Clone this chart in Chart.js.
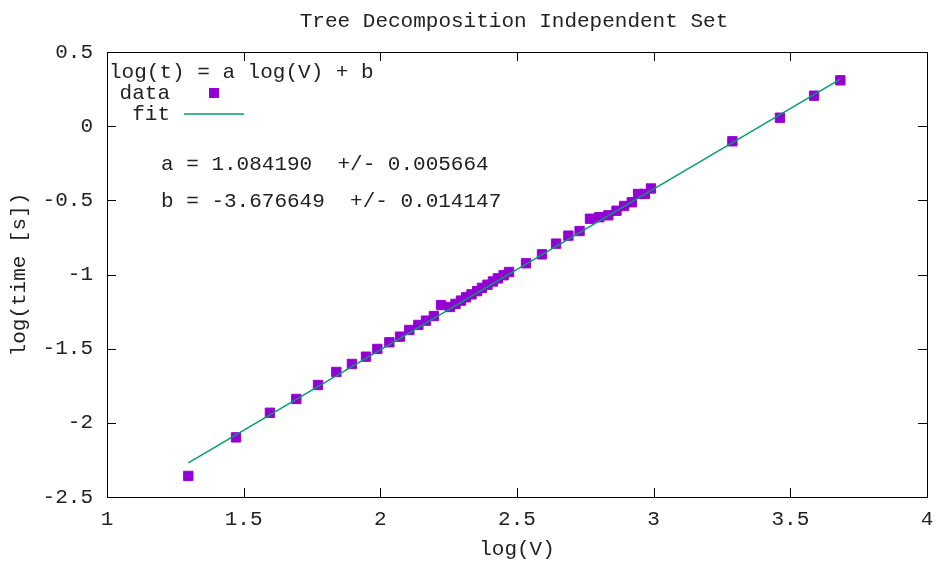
<!DOCTYPE html>
<html>
<head>
<meta charset="utf-8">
<script src="https://cdn.jsdelivr.net/npm/chart.js@4"></script>
<style>
  html, body { margin: 0; padding: 0; background: #fff; }
  #wrap { width: 936px; height: 562px; }
</style>
</head>
<body>
<div id="wrap"><canvas id="fitChart" width="936" height="562"></canvas></div>
<script>
// measured points (log10 of vertex count vs log10 of runtime)
const logV = [1.2975, 1.472, 1.596, 1.6926, 1.772, 1.839, 1.896, 1.9476, 1.989,
  2.033, 2.072, 2.106, 2.139, 2.167, 2.196, 2.222,
  2.255, 2.275, 2.295, 2.3135, 2.3335, 2.354, 2.372, 2.392, 2.412, 2.430, 2.451, 2.471,
  2.533, 2.5915, 2.643, 2.688, 2.729, 2.767, 2.801, 2.834, 2.864, 2.892, 2.920, 2.943, 2.968, 2.990,
  3.288, 3.462, 3.587, 3.683];
const logT = [-2.358, -2.098, -1.932, -1.839, -1.745, -1.657, -1.603, -1.554, -1.502,
  -1.457, -1.419, -1.374, -1.340, -1.311, -1.280, -1.206,
  -1.219, -1.198, -1.176, -1.154, -1.134, -1.112, -1.090, -1.069, -1.047, -1.026, -1.005, -0.983,
  -0.9245, -0.864, -0.792, -0.738, -0.707, -0.624, -0.614, -0.601, -0.570, -0.538, -0.513, -0.457, -0.457, -0.420,
  -0.102, 0.057, 0.2055, 0.309];

// fit line end points as drawn
const fitV = [1.2975, 3.683];
const fitT = [-2.270, 0.317];

const xTicks = [1, 1.5, 2, 2.5, 3, 3.5, 4];
const yTicks = [-2.5, -2, -1.5, -1, -0.5, 0, 0.5];

const titleText = 'Tree Decomposition Independent Set';
const keyTitle = 'log(t) = a log(V) + b';
const fitParams = ['a = 1.084190  +/- 0.005664', 'b = -3.676649  +/- 0.014147'];

const FONT = '"Liberation Mono", "DejaVu Sans Mono", monospace';
const TXT = '#222';
const PURPLE = '#9400d3';
const GREEN = '#009e73';

// gnuplot-ish frame: border, inward ticks on all sides, title and key
const gnuFrame = {
  id: 'gnuFrame',
  afterDraw(chart) {
    const { ctx, chartArea: a, scales } = chart;
    ctx.save();
    ctx.strokeStyle = '#000';
    ctx.lineWidth = 1;
    ctx.strokeRect(Math.round(a.left) + 0.5, Math.round(a.top) + 0.5,
      Math.round(a.right - a.left), Math.round(a.bottom - a.top));

    const tl = 9;
    ctx.beginPath();
    xTicks.forEach(v => {
      const x = Math.round(scales.x.getPixelForValue(v)) + 0.5;
      ctx.moveTo(x, a.bottom); ctx.lineTo(x, a.bottom - tl);
      ctx.moveTo(x, a.top); ctx.lineTo(x, a.top + tl);
    });
    yTicks.forEach(v => {
      const y = Math.round(scales.y.getPixelForValue(v)) + 0.5;
      ctx.moveTo(a.left, y); ctx.lineTo(a.left + tl, y);
      ctx.moveTo(a.right, y); ctx.lineTo(a.right - tl, y);
    });
    ctx.stroke();

    ctx.fillStyle = TXT;
    ctx.font = '21px ' + FONT;
    ctx.textBaseline = 'alphabetic';

    ctx.textAlign = 'center';
    ctx.fillText(titleText, 514, 27);

    ctx.textAlign = 'left';
    ctx.fillText(keyTitle, 109, 78);

    ctx.textAlign = 'right';
    ctx.fillText('data', 170, 99);
    ctx.fillText('fit', 170, 120);

    ctx.fillStyle = PURPLE;
    ctx.fillRect(209, 88, 10, 10);
    ctx.strokeStyle = GREEN;
    ctx.lineWidth = 1.5;
    ctx.beginPath();
    ctx.moveTo(184, 114);
    ctx.lineTo(244, 114);
    ctx.stroke();

    ctx.fillStyle = TXT;
    ctx.textAlign = 'left';
    ctx.fillText(fitParams[0], 161, 170);
    ctx.fillText(fitParams[1], 161, 207);
    ctx.restore();
  }
};

const ctx = document.getElementById('fitChart').getContext('2d');

const fitChart = new Chart(ctx, {
  type: 'scatter',
  data: {
    datasets: [
      {
        label: 'fit',
        type: 'line',
        data: fitV.map((v, i) => ({ x: v, y: fitT[i] })),
        borderColor: GREEN,
        borderWidth: 1.5,
        pointRadius: 0,
        fill: false,
        order: 0,
      },
      {
        label: 'data',
        data: logV.map((v, i) => ({ x: v, y: logT[i] })),
        pointStyle: 'rect',
        pointRadius: 6.6,
        pointBorderWidth: 1,
        backgroundColor: PURPLE,
        borderColor: PURPLE,
        showLine: false,
        order: 1,
      },
    ],
  },
  options: {
    responsive: false,
    animation: false,
    layout: { padding: { top: 52, right: 9, left: 0, bottom: 0 } },
    plugins: {
      legend: { display: false },
      title: { display: false },
      tooltip: { enabled: false },
    },
    scales: {
      x: {
        type: 'linear',
        min: 1,
        max: 4,
        afterBuildTicks: s => { s.ticks = xTicks.map(v => ({ value: v })); },
        afterFit: s => { s.height = 65; s.paddingLeft = 0; s.paddingRight = 0; },
        grid: { display: false, drawTicks: false },
        border: { display: false },
        ticks: {
          color: TXT,
          padding: 10,
          maxRotation: 0,
          callback: v => String(v),
          font: { family: FONT, size: 21, lineHeight: 1.2 },
        },
        title: {
          display: true,
          text: 'log(V)',
          color: TXT,
          padding: { top: 0, bottom: 0 },
          font: { family: FONT, size: 21, lineHeight: 1.2 },
        },
      },
      y: {
        type: 'linear',
        min: -2.5,
        max: 0.5,
        afterBuildTicks: s => { s.ticks = yTicks.map(v => ({ value: v })); },
        afterFit: s => { s.width = 107; s.paddingTop = 0; s.paddingBottom = 0; },
        grid: { display: false, drawTicks: false },
        border: { display: false },
        ticks: {
          color: TXT,
          padding: 14,
          callback: v => String(v),
          font: { family: FONT, size: 21, lineHeight: 1.2 },
        },
        title: {
          display: true,
          text: 'log(time [s])',
          color: TXT,
          padding: { top: 7, bottom: 0 },
          font: { family: FONT, size: 21, lineHeight: 1.2 },
        },
      },
    },
  },
  plugins: [gnuFrame],
});
</script>
</body>
</html>
